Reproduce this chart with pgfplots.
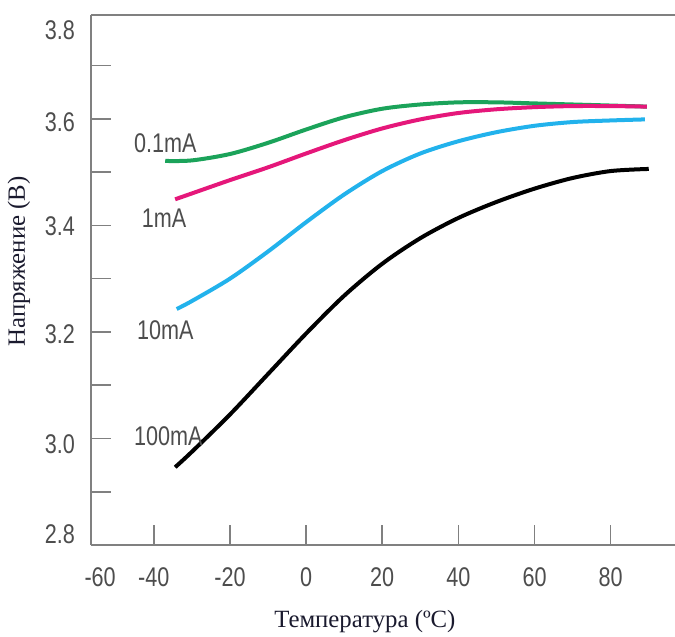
\documentclass[border=0pt]{standalone}
\usepackage{fontspec}
\setmainfont{Liberation Serif}
\newfontfamily\tickfont[FakeStretch=0.8]{Liberation Sans}
\usepackage{pgfplots}
\pgfplotsset{compat=1.18}
\definecolor{cgreen}{HTML}{1BA35A}
\definecolor{cpink}{HTML}{E5177A}
\definecolor{cblue}{HTML}{22B2EC}
\definecolor{axgray}{HTML}{808080}
\definecolor{txtgray}{HTML}{4D4D4D}
\definecolor{lbl}{HTML}{1A1A2E}
\begin{document}
\begin{tikzpicture}
\useasboundingbox (-45.5bp,-46bp) rectangle (292bp,272.5bp);
\begin{axis}[
  at={(0,0)}, anchor=south west,
  scale only axis, width=292bp, height=265bp,
  xmin=-56.5, xmax=96.9, ymin=2.8, ymax=3.795,
  clip=false,
  axis x line=bottom, axis y line=left,
  axis line style={-, draw=axgray, line width=1.4bp},
  xtick={-54.1,-40,-20,0,20,40,60,80},
  xticklabels={-60,-40,-20,0,20,40,60,80},
  ytick={2.82,2.989,3.195,3.398,3.594,3.767},
  yticklabels={2.8,3.0,3.2,3.4,3.6,3.8},
  major tick length=0pt,
  minor xtick={-40,-20,0,20,40,60,80},
  minor ytick={2.9,3.0,3.1,3.2,3.3,3.4,3.5,3.6,3.7},
  minor tick length=10bp,
  tick align=inside,
  minor tick style={draw=axgray, line width=0.8bp},
  ticklabel style={font=\tickfont\fontsize{13.5bp}{16bp}\selectfont, text=txtgray},
  xticklabel style={yshift=-8bp},
  yticklabel style={xshift=-4.5bp},
]
\addplot[cgreen, line width=2bp, smooth] coordinates {
(-37,3.521) (-30,3.522) (-20,3.534) (-10,3.555) (0,3.580) (10,3.603)
(20,3.619) (30,3.627) (40,3.631) (50,3.631) (60,3.629) (70,3.627) (80,3.625) (89.5,3.623)};
\addplot[cpink, line width=2bp, smooth] coordinates {
(-34.4,3.449) (-30,3.460) (-20,3.485) (-10,3.509) (0,3.535) (10,3.560)
(20,3.582) (30,3.599) (40,3.611) (50,3.618) (60,3.622) (70,3.624) (80,3.624) (89.5,3.623)};
\addplot[cblue, line width=2bp, smooth] coordinates {
(-34,3.243) (-30,3.258) (-20,3.300) (-10,3.351) (0,3.406) (10,3.458)
(20,3.502) (30,3.535) (40,3.558) (50,3.575) (60,3.587) (70,3.594) (80,3.597) (89,3.599)};
\addplot[black, line width=2bp, smooth] coordinates {
(-34.4,2.946) (-30,2.975) (-20,3.045) (-10,3.121) (0,3.197) (10,3.268)
(20,3.328) (30,3.376) (40,3.414) (50,3.444) (60,3.469) (70,3.489) (80,3.502) (90,3.506)};
\draw[axgray, line width=1.4bp] (rel axis cs:0,1) -- (rel axis cs:1,1);
\begin{scope}[every node/.style={font=\tickfont\fontsize{13.5bp}{16bp}\selectfont, text=txtgray}]
\node at (axis cs:-37.0,3.555) {0.1mA};
\node at (axis cs:-37.3,3.414) {1mA};
\node at (axis cs:-37.0,3.204) {10mA};
\node at (axis cs:-36.2,3.004) {100mA};
\end{scope}
\node[rotate=90, text=lbl, font=\fontsize{12.4bp}{14bp}\selectfont] at (axis description cs:-0.1233,0.535) {Напряжение (В)};
\node[text=lbl, font=\fontsize{12.4bp}{14bp}\selectfont] at (axis description cs:0.469,-0.145) {Температура (ºC)};
\end{axis}
\end{tikzpicture}
\end{document}
